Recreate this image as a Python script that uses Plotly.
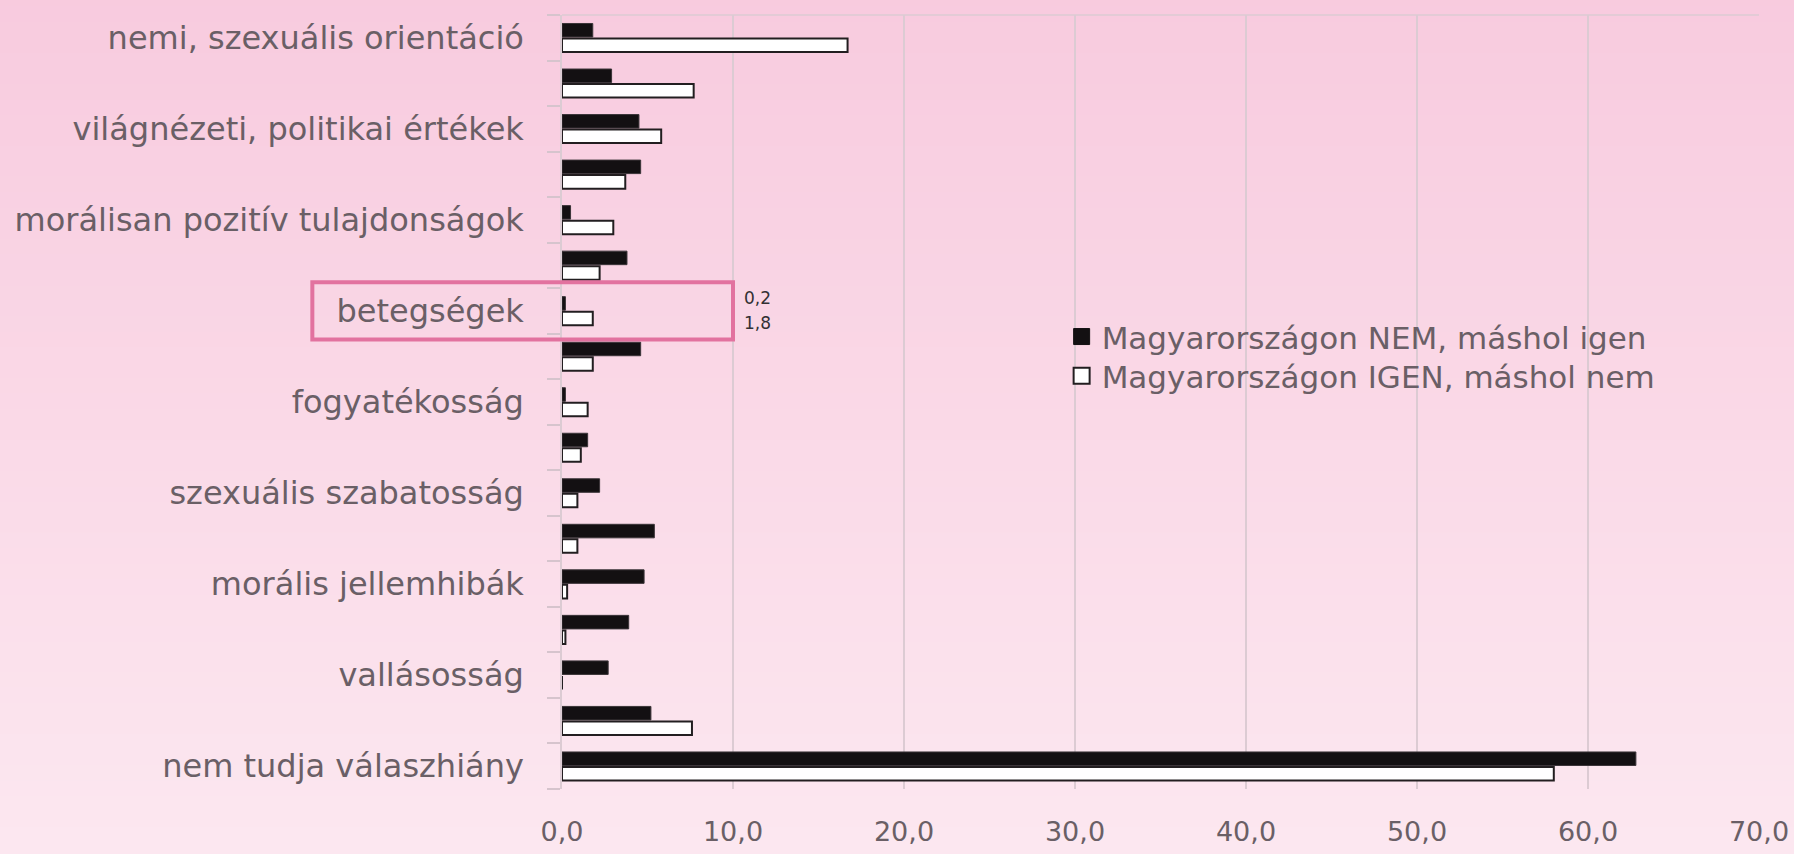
import plotly.graph_objects as go

# ---- data ----
category_labels = [
    "nemi, szexuális orientáció", "",
    "világnézeti, politikai értékek", "",
    "morálisan pozitív tulajdonságok", "",
    "betegségek", "",
    "fogyatékosság", "",
    "szexuális szabatosság", "",
    "morális jellemhibák", "",
    "vallásosság", "",
    "nem tudja válaszhiány",
]
series_names = ["Magyarországon NEM, máshol igen", "Magyarországon IGEN, máshol nem"]
nem_values = [1.8, 2.9, 4.5, 4.6, 0.5, 3.8, 0.2, 4.6, 0.2, 1.5, 2.2, 5.4, 4.8, 3.9, 2.7, 5.2, 62.8]
igen_values = [16.7, 7.7, 5.8, 3.7, 3.0, 2.2, 1.8, 1.8, 1.5, 1.1, 0.9, 0.9, 0.3, 0.2, 0.0, 7.6, 58.0]
x_ticks = [0, 10, 20, 30, 40, 50, 60, 70]
highlight_index = 6  # betegségek

n = len(category_labels)
idx = list(range(n))
X_MAX = 70
FONT = "DejaVu Sans"
TXT = "#6a5f66"

fig = go.Figure()
fig.add_trace(go.Bar(
    y=idx, x=nem_values, orientation="h", name=series_names[0],
    marker=dict(color="#131012", line=dict(color="#3a3438", width=1)),
    showlegend=False,
))
fig.add_trace(go.Bar(
    y=idx, x=igen_values, orientation="h", name=series_names[1],
    marker=dict(color="#ffffff", line=dict(color="#221e20", width=2)),
    showlegend=False,
))
# legend proxies (square icons)
fig.add_trace(go.Scatter(x=[None], y=[None], mode="markers", name=series_names[0], legend="legend",
                         marker=dict(symbol="square", size=16, color="#131012",
                                     line=dict(color="#131012", width=1))))
fig.add_trace(go.Scatter(x=[None], y=[None], mode="markers", name=series_names[1], legend="legend2",
                         marker=dict(symbol="square", size=16, color="#ffffff",
                                     line=dict(color="#221e20", width=2))))

# background gradient (paper bands)
shapes = []
top_c = (248, 202, 222)
bot_c = (252, 233, 241)
bands = 60
for i in range(bands):
    t = i / (bands - 1)
    c = tuple(round(top_c[k] + (bot_c[k] - top_c[k]) * t) for k in range(3))
    shapes.append(dict(type="rect", xref="paper", yref="paper", layer="below",
                       x0=-1, x1=2, y0=1.05 - (i + 1) * (1.2 / bands) - 0.001,
                       y1=1.05 - i * (1.2 / bands) + 0.001,
                       fillcolor="rgb(%d,%d,%d)" % c, line=dict(width=0)))
# plot top border
shapes.append(dict(type="line", xref="paper", yref="paper", x0=0, x1=1, y0=1, y1=1,
                   line=dict(color="#dccbd3", width=1.5), layer="below"))
# highlight box around the 'betegségek' row
box_left_value = -14.6
box_right_value = 10
hy0 = (n - 0.5 - (highlight_index + 0.63)) / n
hy1 = (n - 0.5 - (highlight_index - 0.63)) / n
shapes.append(dict(type="rect", xref="paper", yref="paper",
                   x0=box_left_value / X_MAX, x1=box_right_value / X_MAX,
                   y0=hy0, y1=hy1, line=dict(color="#e2729f", width=4),
                   fillcolor="rgba(0,0,0,0)", layer="above"))

def fmt(v):
    return ("%.1f" % v).replace(".", ",")

annotations = [
    dict(x=box_right_value, y=highlight_index, xref="x", yref="y", text=fmt(nem_values[highlight_index]),
         showarrow=False, xanchor="left", xshift=9, yshift=13,
         font=dict(family=FONT, size=17, color="#333033")),
    dict(x=box_right_value, y=highlight_index, xref="x", yref="y", text=fmt(igen_values[highlight_index]),
         showarrow=False, xanchor="left", xshift=9, yshift=-12,
         font=dict(family=FONT, size=17, color="#333033")),
]

legend_style = dict(xanchor="left", yanchor="top", bgcolor="rgba(0,0,0,0)",
                    font=dict(family=FONT, size=31, color=TXT), itemwidth=30)

fig.update_layout(
    width=1794, height=854,
    margin=dict(l=562, r=35, t=15, b=65),
    paper_bgcolor="#fad9e7", plot_bgcolor="rgba(0,0,0,0)",
    barmode="group", bargap=0.34, bargroupgap=0.1,
    shapes=shapes, annotations=annotations,
    font=dict(family=FONT, color=TXT),
    legend=dict(x=0.4174, y=0.619, **legend_style),
    legend2=dict(x=0.4174, y=0.5685, **legend_style),
    xaxis=dict(range=[0, X_MAX], tickvals=x_ticks, ticktext=[fmt(v) for v in x_ticks],
               showgrid=True, gridcolor="#dccbd3", gridwidth=1.5, zeroline=False,
               ticks="outside", ticklen=19, tickcolor="rgba(0,0,0,0)", automargin=False,
               tickfont=dict(family=FONT, size=27, color=TXT), showline=False, fixedrange=True),
    yaxis=dict(range=[n - 0.5, -0.5], tickvals=idx, ticktext=category_labels,
               showgrid=False, zeroline=False, showline=True, linecolor="#dccbd3", linewidth=1.5,
               ticks="outside", ticklen=30, tickcolor="rgba(0,0,0,0)", automargin=False,
               tickfont=dict(family=FONT, size=32, color=TXT),
               minor=dict(tickmode="linear", tick0=-0.5, dtick=1, ticks="outside",
                          ticklen=13, tickcolor="#d6c4cd", tickwidth=1.5, showgrid=False),
               fixedrange=True),
)

fig.write_html("out.html", config={"displayModeBar": False},
               post_script="document.body.style.margin='0';document.body.style.overflow='hidden';")
